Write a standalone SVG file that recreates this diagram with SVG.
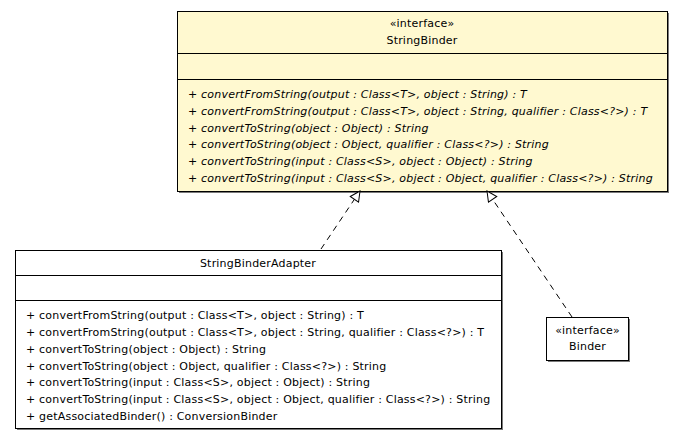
<svg xmlns="http://www.w3.org/2000/svg" width="684" height="440" viewBox="0 0 684 440">
<style>
.box{fill:#ffffff;stroke:#000;stroke-width:1}
.ibox{fill:#fff9d0;stroke:#000;stroke-width:1}
.shadow{fill:#7a7a7a}
text{font-family:"DejaVu Sans",Verdana,sans-serif;font-size:11px;fill:#000;letter-spacing:0.2px}
.c{text-anchor:middle}
.it{font-style:italic}
.edge{fill:none;stroke:#000;stroke-width:1;stroke-dasharray:6,5}
</style>
<defs>
<marker id="tri" viewBox="0 0 12 12" refX="11" refY="6" markerWidth="12" markerHeight="12" markerUnits="userSpaceOnUse" orient="auto">
<path d="M1,1 L11,6 L1,11 Z" fill="#fff" stroke="#000" stroke-width="1"/>
</marker>
</defs>
<rect width="684" height="440" fill="#fff"/>
<g id="StringBinder">
<rect class="shadow" x="179" y="13" width="490" height="180"/>
<rect class="ibox" x="177.5" y="11.5" width="490" height="180"/>
<line x1="177.5" y1="53.5" x2="667.5" y2="53.5" stroke="#000"/>
<line x1="177.5" y1="79.5" x2="667.5" y2="79.5" stroke="#000"/>
<text class="c" x="422" y="27">«interface»</text>
<text class="c" x="422" y="44">StringBinder</text>
<text class="it" x="188" y="98">+ convertFromString(output : Class&lt;T&gt;, object : String) : T</text>
<text class="it" x="188" y="115">+ convertFromString(output : Class&lt;T&gt;, object : String, qualifier : Class&lt;?&gt;) : T</text>
<text class="it" x="188" y="132">+ convertToString(object : Object) : String</text>
<text class="it" x="188" y="148">+ convertToString(object : Object, qualifier : Class&lt;?&gt;) : String</text>
<text class="it" x="188" y="165">+ convertToString(input : Class&lt;S&gt;, object : Object) : String</text>
<text class="it" x="188" y="182">+ convertToString(input : Class&lt;S&gt;, object : Object, qualifier : Class&lt;?&gt;) : String</text>
</g>
<g id="StringBinderAdapter">
<rect class="shadow" x="17" y="252" width="486" height="178"/>
<rect class="box" x="15.5" y="250.5" width="486" height="178"/>
<line x1="15.5" y1="275.5" x2="501.5" y2="275.5" stroke="#000"/>
<line x1="15.5" y1="300.5" x2="501.5" y2="300.5" stroke="#000"/>
<text class="c" x="258" y="267">StringBinderAdapter</text>
<text x="26" y="319">+ convertFromString(output : Class&lt;T&gt;, object : String) : T</text>
<text x="26" y="336">+ convertFromString(output : Class&lt;T&gt;, object : String, qualifier : Class&lt;?&gt;) : T</text>
<text x="26" y="353">+ convertToString(object : Object) : String</text>
<text x="26" y="370">+ convertToString(object : Object, qualifier : Class&lt;?&gt;) : String</text>
<text x="26" y="386">+ convertToString(input : Class&lt;S&gt;, object : Object) : String</text>
<text x="26" y="403">+ convertToString(input : Class&lt;S&gt;, object : Object, qualifier : Class&lt;?&gt;) : String</text>
<text x="26" y="420">+ getAssociatedBinder() : ConversionBinder</text>
</g>
<g id="Binder">
<rect class="shadow" x="548" y="319" width="82" height="43"/>
<rect class="box" x="546.5" y="317.5" width="82" height="43"/>
<text class="c" x="587.5" y="334">«interface»</text>
<text class="c" x="587.5" y="350">Binder</text>
</g>
<g id="connectors">
<line class="edge" x1="321" y1="249" x2="360" y2="191" marker-end="url(#tri)"/>
<line class="edge" x1="572" y1="317" x2="487" y2="191" marker-end="url(#tri)"/>
</g>
</svg>
